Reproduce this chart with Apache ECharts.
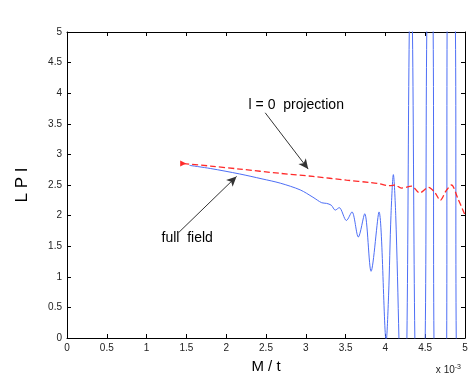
<!DOCTYPE html>
<html>
<head>
<meta charset="utf-8">
<script src="https://cdn.jsdelivr.net/npm/echarts@6/dist/echarts.min.js"></script>
<style>
html, body { margin: 0; padding: 0; background: #fff; }
#chart { width: 471px; height: 379px; }
</style>
</head>
<body>
<div id="chart"></div>
<script>
// full field (blue, solid)
var fieldX = [1.54, 1.80, 2.17, 2.45, 2.68, 2.93, 3.09, 3.20, 3.26, 3.32, 3.37, 3.42, 3.51, 3.58, 3.66, 3.74, 3.82, 3.92, 4.01, 4.04, 4.07, 4.10, 4.13, 4.17, 4.22, 4.27, 4.30, 4.32, 4.34, 4.37, 4.43, 4.50, 4.52, 4.56, 4.60, 4.61, 4.69, 4.77, 4.775, 4.82, 4.88, 4.89, 4.95, 5.00];
var fieldY = [2.82, 2.77, 2.68, 2.60, 2.53, 2.42, 2.30, 2.21, 2.20, 2.17, 2.09, 2.13, 1.92, 2.06, 1.65, 2.03, 1.09, 2.06, -0.05, 0.7, 2.0, 2.67, 2.0, 0, -3, 0, 5, 5.4, 5, 0, -4, 0, 5, 7, 5, 0, -5, 0, 5, 8, 5, 0, -6, -2];

// l = 0 projection (red, dashed)
var projX = [1.46, 1.80, 2.17, 2.68, 3.09, 3.51, 3.81, 3.93, 4.03, 4.06, 4.12, 4.20, 4.33, 4.43, 4.54, 4.62, 4.69, 4.76, 4.83, 4.91, 5.00];
var projY = [2.85, 2.81, 2.76, 2.69, 2.64, 2.58, 2.54, 2.52, 2.49, 2.49, 2.50, 2.45, 2.48, 2.37, 2.46, 2.38, 2.25, 2.40, 2.50, 2.28, 2.01];

var xTicks = [0, 0.5, 1, 1.5, 2, 2.5, 3, 3.5, 4, 4.5, 5];
var yTicks = [0, 0.5, 1, 1.5, 2, 2.5, 3, 3.5, 4, 4.5, 5];

// annotation arrows: [tailX, tailY, headX, headY]
var projArrow = [2.49, 3.68, 3.03, 2.76];
var fieldArrow = [1.40, 1.72, 2.13, 2.64];
var projText = { x: 2.88, y: 3.80, text: 'l = 0  projection' };
var fieldText = { x: 1.51, y: 1.63, text: 'full  field' };

function zip(xs, ys) {
    return xs.map(function (x, i) { return [x, ys[i]]; });
}

var font = 'Liberation Sans, Arial, Helvetica, sans-serif';
var chart = echarts.init(document.getElementById('chart'));

function axisBase(pos, ticks) {
    return {
        type: 'value',
        position: pos,
        min: ticks[0],
        max: ticks[ticks.length - 1],
        interval: 0.5,
        axisLine: { show: true, onZero: false, lineStyle: { color: '#000', width: 1 } },
        axisTick: { show: true, inside: true, length: 4, lineStyle: { color: '#000' } },
        splitLine: { show: false },
        axisLabel: { show: false }
    };
}

var xBottom = axisBase('bottom', xTicks);
xBottom.axisLabel = { show: true, color: '#222', fontSize: 10, fontFamily: font, margin: 5 };
xBottom.name = 'M / t';
xBottom.nameLocation = 'middle';
xBottom.nameGap = 21;
xBottom.nameTextStyle = { color: '#000', fontSize: 15, fontFamily: font };
var xTop = axisBase('top', xTicks);

var yLeft = axisBase('left', yTicks);
yLeft.axisLabel = { show: true, color: '#222', fontSize: 10, fontFamily: font, margin: 5 };
yLeft.name = 'L P I';
yLeft.nameLocation = 'middle';
yLeft.nameGap = 36;
yLeft.nameTextStyle = { color: '#000', fontSize: 17, fontFamily: font };
var yRight = axisBase('right', yTicks);

function arrowLine(a) {
    return [
        { coord: [a[0], a[1]], symbol: 'none' },
        { coord: [a[2], a[3]], symbol: 'arrow' }
    ];
}

var option = {
    animation: false,
    backgroundColor: '#fff',
    grid: { left: 67, right: 6, top: 32, bottom: 33 },
    xAxis: [xBottom, xTop],
    yAxis: [yLeft, yRight],
    series: [
        {
            name: 'full field',
            type: 'line',
            data: zip(fieldX, fieldY),
            showSymbol: false,
            smooth: 0.3,
            clip: true,
            lineStyle: { color: '#4d6ef5', width: 1 },
            markLine: {
                silent: true,
                symbolSize: [7, 10],
                lineStyle: { color: '#333', width: 1, type: 'solid' },
                label: { show: false },
                data: [arrowLine(projArrow), arrowLine(fieldArrow)]
            }
        },
        {
            name: 'l = 0 projection',
            type: 'line',
            data: zip(projX, projY),
            showSymbol: false,
            smooth: 0.3,
            clip: true,
            lineStyle: { color: '#ff2a2a', width: 1.3, type: [6, 3] },
            markPoint: {
                silent: true,
                label: { show: false },
                data: [{
                    coord: [projX[0], projY[0]],
                    symbol: 'triangle',
                    symbolSize: 6,
                    symbolRotate: -90,
                    itemStyle: { color: '#ff2a2a' }
                }]
            }
        }
    ]
};
chart.setOption(option);

function textAt(t) {
    var p = chart.convertToPixel({ xAxisIndex: 0, yAxisIndex: 0 }, [t.x, t.y]);
    return {
        type: 'text',
        x: p[0],
        y: p[1],
        style: {
            text: t.text,
            fill: '#000',
            font: '14px ' + font,
            align: 'center',
            verticalAlign: 'middle'
        }
    };
}

chart.setOption({
    graphic: [
        textAt(projText),
        textAt(fieldText),
        {
            type: 'text',
            right: 10,
            bottom: 4,
            style: {
                text: 'x 10{sup|-3}',
                fill: '#222',
                font: '10px ' + font,
                rich: { sup: { fontSize: 7, verticalAlign: 'top', padding: [0, 0, 6, 0] } }
            }
        }
    ]
});
</script>
</body>
</html>
